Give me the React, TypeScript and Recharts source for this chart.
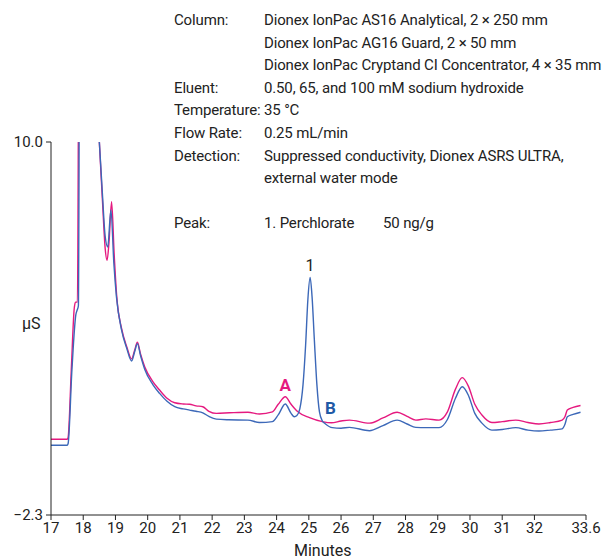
import { LineChart, Line, XAxis, YAxis, ReferenceDot } from "recharts";

const FONT = "Roboto, 'Liberation Sans', sans-serif";
const BLUE = "#3c68b8";
const MAGENTA = "#e5197f";

// [minutes, µS]
const blueTrace: [number, number][] = [
  [17.0, 0.0], [17.5, 0.0], [17.53, 0.05], [17.65, 2.5], [17.77, 4.3], [17.81, 4.45],
  [17.85, 4.6], [17.89, 14], [18.3, 14], [18.5, 10.0], [18.6, 8.2], [18.68, 6.9],
  [18.76, 6.54], [18.86, 7.76], [18.95, 6.0], [19.03, 4.9], [19.19, 3.8], [19.35, 3.2],
  [19.5, 2.78], [19.6, 3.1], [19.68, 3.35], [19.78, 2.95], [19.91, 2.5], [20.16, 2.0],
  [20.37, 1.71], [20.6, 1.45], [20.84, 1.27], [21.1, 1.2], [21.3, 1.16], [21.5, 1.12],
  [21.71, 1.07], [21.9, 0.95], [22.13, 0.86], [22.5, 0.84], [23.11, 0.83], [23.47, 0.75],
  [23.87, 0.78], [24.05, 1.0], [24.27, 1.36], [24.45, 1.05], [24.55, 0.94], [24.63, 0.98],
  [24.72, 1.2], [24.82, 2.0], [24.9, 3.3], [24.97, 4.8], [25.04, 5.53], [25.1, 4.9],
  [25.17, 3.5], [25.25, 2.0], [25.33, 1.1], [25.42, 0.8], [25.5, 0.72], [25.73, 0.58],
  [26.0, 0.56], [26.26, 0.59], [26.88, 0.48], [27.3, 0.65], [27.74, 0.83], [28.05, 0.7],
  [28.32, 0.59], [28.63, 0.58], [29.04, 0.58], [29.3, 0.85], [29.55, 1.55], [29.76, 1.93],
  [29.95, 1.65], [30.15, 1.05], [30.37, 0.73], [30.68, 0.5], [31.0, 0.52], [31.42, 0.58],
  [31.8, 0.5], [32.14, 0.47], [32.5, 0.5], [32.86, 0.54], [32.95, 0.7], [33.02, 0.94],
  [33.2, 1.02], [33.43, 1.09],
];

const magentaTrace: [number, number][] = [
  [17.0, 0.2], [17.5, 0.2], [17.53, 0.25], [17.63, 2.5], [17.72, 4.5], [17.76, 4.72],
  [17.82, 4.72], [17.87, 14], [18.3, 14], [18.5, 10.0], [18.6, 8.0], [18.68, 6.5],
  [18.74, 6.1], [18.8, 6.7], [18.88, 8.03], [18.96, 6.3], [19.04, 4.9], [19.19, 3.85],
  [19.35, 3.25], [19.5, 2.85], [19.6, 3.15], [19.68, 3.4], [19.78, 3.0], [19.91, 2.58],
  [20.16, 2.1], [20.37, 1.82], [20.6, 1.55], [20.84, 1.4], [21.1, 1.36], [21.3, 1.35],
  [21.5, 1.3], [21.71, 1.27], [21.9, 1.12], [22.13, 1.05], [22.54, 1.07], [23.11, 1.09],
  [23.47, 1.03], [23.87, 1.1], [24.05, 1.35], [24.27, 1.6], [24.45, 1.35], [24.65, 1.11],
  [25.02, 0.91], [25.42, 0.78], [25.7, 0.74], [26.0, 0.8], [26.26, 0.83], [26.88, 0.73],
  [27.3, 0.9], [27.74, 1.09], [28.05, 0.95], [28.32, 0.83], [28.63, 0.87], [29.04, 0.83],
  [29.3, 1.1], [29.55, 1.85], [29.76, 2.23], [29.95, 1.95], [30.15, 1.35], [30.37, 1.0],
  [30.68, 0.75], [31.0, 0.78], [31.42, 0.83], [31.8, 0.75], [32.14, 0.7], [32.5, 0.75],
  [32.86, 0.83], [32.95, 0.95], [33.02, 1.16], [33.2, 1.25], [33.43, 1.31],
];

const xTicks = [17, 18, 19, 20, 21, 22, 23, 24, 25, 26, 27, 28, 29, 30, 31, 32, 33.6];
const yTicks = [-2.3, 10];

const conditions: [string, string][] = [
  ["Column:", "Dionex IonPac AS16 Analytical, 2 × 250 mm"],
  ["", "Dionex IonPac AG16 Guard, 2 × 50 mm"],
  ["", "Dionex IonPac Cryptand CI Concentrator, 4 × 35 mm"],
  ["Eluent:", "0.50, 65, and 100 mM sodium hydroxide"],
  ["Temperature:", "35 °C"],
  ["Flow Rate:", "0.25 mL/min"],
  ["Detection:", "Suppressed conductivity, Dionex ASRS ULTRA,"],
  ["", "external water mode"],
];

const toPoints = (trace: [number, number][]) => trace.map(([t, v]) => ({ t, v }));

const peakLabel = (value: string, fill: string, bold: boolean) => ({
  value,
  position: "center" as const,
  fill,
  fontSize: bold ? 17 : 16,
  fontWeight: bold ? 700 : 400,
  fontFamily: FONT,
});

export default function App() {
  const blue = toPoints(blueTrace);
  const magenta = toPoints(magentaTrace);
  const rowH = 22.6;

  return (
    <div style={{ position: "absolute", left: 0, top: 0, width: 607, height: 560, overflow: "hidden", background: "#fff", fontFamily: FONT, color: "#222" }}>
      <div style={{ position: "absolute", left: 0, top: 0, fontSize: 15, letterSpacing: -0.15 }}>
        {conditions.map(([k, v], i) => (
          <div key={i} style={{ position: "absolute", top: 9 + i * rowH, lineHeight: "22px", whiteSpace: "nowrap" }}>
            <span style={{ position: "absolute", left: 174 }}>{k}</span>
            <span style={{ position: "absolute", left: 264 }}>{v}</span>
          </div>
        ))}
        <div style={{ position: "absolute", top: 212, lineHeight: "22px", whiteSpace: "nowrap" }}>
          <span style={{ position: "absolute", left: 174 }}>Peak:</span>
          <span style={{ position: "absolute", left: 264 }}>1. Perchlorate</span>
          <span style={{ position: "absolute", left: 383 }}>50 ng/g</span>
        </div>
      </div>
      <div style={{ position: "absolute", left: 22, top: 314, fontSize: 16 }}>µS</div>
      <div style={{ position: "absolute", left: 294, top: 541, fontSize: 16 }}>Minutes</div>
      <LineChart width={607} height={560} margin={{ top: 142, right: 21, bottom: 0, left: 0 }}>
        <XAxis
          dataKey="t"
          type="number"
          domain={[17, 33.6]}
          ticks={xTicks}
          allowDataOverflow
          interval={0}
          tickSize={5}
          tickMargin={2}
          height={45}
          stroke="#222"
          tick={{ fill: "#222", fontSize: 15, fontFamily: FONT }}
          tickFormatter={(v: number) => String(v)}
        />
        <YAxis
          type="number"
          domain={[-2.3, 10]}
          ticks={yTicks}
          allowDataOverflow
          width={51}
          tickSize={5}
          tickMargin={3}
          stroke="#222"
          tick={{ fill: "#222", fontSize: 15, fontFamily: FONT }}
          tickFormatter={(v: number) => (v < 0 ? "\u2212" + Math.abs(v).toFixed(1) : v.toFixed(1))}
        />
        <Line data={magenta} dataKey="v" type="monotone" stroke={MAGENTA} strokeWidth={1.4} dot={false} isAnimationActive={false} />
        <Line data={blue} dataKey="v" type="monotone" stroke={BLUE} strokeWidth={1.4} dot={false} isAnimationActive={false} />
        <ReferenceDot x={25.04} y={5.94} r={0} fill="none" stroke="none" label={peakLabel("1", "#222", false)} />
        <ReferenceDot x={24.27} y={1.99} r={0} fill="none" stroke="none" label={peakLabel("A", MAGENTA, true)} />
        <ReferenceDot x={25.67} y={1.23} r={0} fill="none" stroke="none" label={peakLabel("B", "#1f5aa6", true)} />
      </LineChart>
    </div>
  );
}
